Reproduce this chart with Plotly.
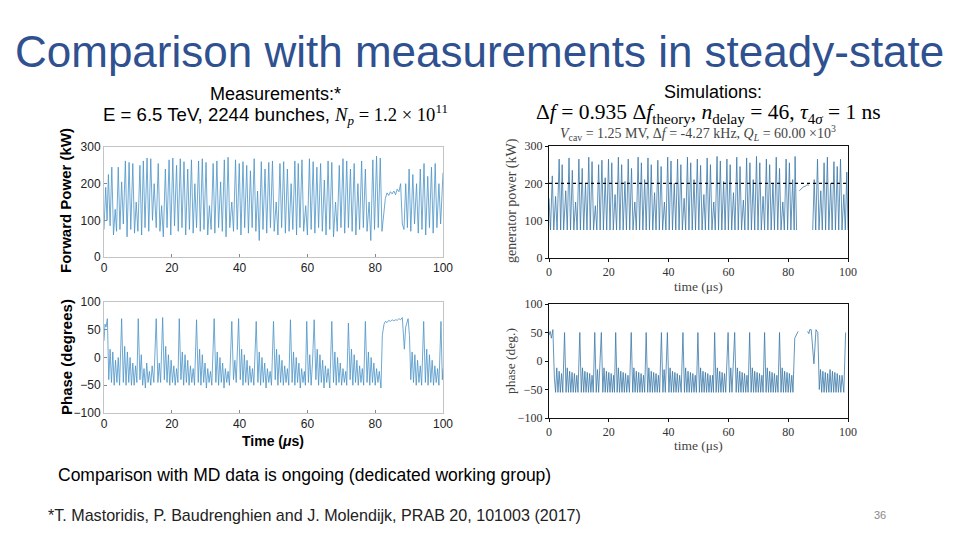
import plotly.graph_objects as go

# ---- data --------------------------------------------------------------------
TIME_TICKS = [0, 20, 40, 60, 80, 100]
POWER_TICKS = [0, 100, 200, 300]
PHASE_TICKS = [-100, -50, 0, 50, 100]
GEN_POWER_LIMIT = 200  # dotted reference line, kW

# measured forward power (us, kW)
MEAS_POWER = [
    (0.0, 75), (0.5, 190), (0.9, 100), (1.3, 225), (1.8, 85), (2.3, 245), (2.8, 60), (3.3, 130),
    (3.7, 70), (4.2, 245), (4.7, 75), (5.2, 205), (5.7, 90), (6.3, 262), (6.8, 55), (7.4, 258),
    (7.9, 75), (8.5, 255), (9.0, 65), (9.5, 150), (10.0, 70), (10.6, 250), (11.1, 60), (11.6, 262),
    (12.1, 80), (12.7, 270), (13.2, 70), (13.8, 268), (14.3, 100), (14.8, 200), (15.4, 80), (16.0, 255),
    (16.5, 70), (17.0, 140), (17.5, 55), (18.1, 240), (18.6, 80), (19.2, 265), (19.7, 60), (20.3, 270),
    (20.8, 85), (21.4, 250), (21.9, 70), (22.5, 268), (23.0, 80), (23.6, 260), (24.1, 60), (24.7, 240),
    (25.2, 75), (25.8, 265), (26.3, 65), (26.8, 200), (27.3, 80), (27.9, 262), (28.4, 70), (29.0, 268),
    (29.5, 75), (30.1, 258), (30.6, 60), (31.1, 140), (31.6, 75), (32.2, 255), (32.7, 65), (33.3, 262),
    (33.8, 80), (34.4, 205), (34.9, 70), (35.5, 265), (36.0, 55), (36.6, 272), (37.1, 80), (37.7, 150),
    (38.2, 70), (38.8, 265), (39.3, 75), (39.9, 255), (40.4, 60), (41.0, 260), (41.5, 80), (42.1, 250),
    (42.6, 65), (43.2, 235), (43.7, 80), (44.3, 268), (44.8, 70), (45.3, 180), (45.8, 45), (46.4, 260),
    (46.9, 75), (47.5, 240), (48.0, 65), (48.6, 258), (49.1, 80), (49.7, 262), (50.2, 70), (50.8, 150),
    (51.3, 60), (51.9, 255), (52.4, 80), (53.0, 260), (53.5, 65), (54.1, 240), (54.6, 70), (55.2, 200),
    (55.7, 75), (56.3, 262), (56.8, 60), (57.3, 255), (57.8, 80), (58.4, 265), (58.9, 70), (59.5, 140),
    (60.0, 60), (60.6, 268), (61.1, 75), (61.7, 260), (62.2, 65), (62.8, 245), (63.3, 80), (63.9, 255),
    (64.4, 70), (65.0, 210), (65.5, 60), (66.1, 262), (66.6, 75), (67.2, 258), (67.7, 55), (68.3, 150),
    (68.8, 70), (69.4, 250), (69.9, 80), (70.5, 268), (71.0, 65), (71.6, 262), (72.1, 80), (72.7, 240),
    (73.2, 70), (73.8, 255), (74.3, 60), (74.9, 200), (75.4, 75), (76.0, 262), (76.5, 80), (77.1, 240),
    (77.6, 70), (78.2, 150), (78.7, 45), (79.3, 265), (79.8, 75), (80.4, 275), (80.9, 80), (81.5, 270),
    (82.0, 70), (82.5, 120), (83.0, 160), (83.5, 175), (84.0, 168), (84.5, 178), (85.0, 172), (85.5, 180),
    (86.0, 170), (86.5, 185), (87.0, 178), (87.5, 200), (88.0, 90), (88.5, 75), (89.0, 200), (89.5, 80),
    (90.0, 240), (90.5, 70), (91.1, 225), (91.6, 90), (92.2, 200), (92.7, 65), (93.3, 240), (93.8, 75),
    (94.4, 255), (94.9, 60), (95.5, 220), (96.0, 80), (96.6, 245), (97.1, 65), (97.7, 255), (98.2, 80),
    (98.8, 200), (99.3, 90), (100.0, 230),
]

# measured phase (us, degrees)
MEAS_PHASE = [
    (0.0, 30), (0.3, 60), (0.6, 55), (1.0, 70), (1.4, -40), (1.8, 15), (2.2, -45), (2.6, 10),
    (3.0, -50), (3.4, -5), (3.8, -45), (4.2, 0), (4.6, -50), (5.2, 70), (5.7, -45), (6.1, 20),
    (6.5, -50), (6.9, 10), (7.3, -45), (7.7, 0), (8.1, -50), (8.5, -10), (8.9, -50), (9.3, -15),
    (9.7, -45), (10.1, 70), (10.6, -40), (11.0, 5), (11.4, -50), (11.8, -20), (12.2, -55), (12.6, -10),
    (13.0, -45), (13.4, -25), (13.8, -50), (14.2, -15), (14.7, -45), (15.4, 70), (15.9, -45), (16.3, -10),
    (16.7, -45), (17.3, 72), (17.8, -40), (18.2, 20), (18.6, -45), (19.0, 5), (19.4, -50), (19.8, -5),
    (20.2, -45), (20.6, -15), (21.0, -50), (21.4, -20), (21.8, -45), (22.2, 70), (22.7, -40), (23.1, 10),
    (23.5, -50), (23.9, 5), (24.3, -45), (24.7, -5), (25.1, -50), (25.5, -15), (25.9, -45), (26.3, -20),
    (26.7, -50), (27.3, 68), (27.8, -45), (28.2, 15), (28.6, -50), (29.0, 5), (29.4, -45), (29.8, -10),
    (30.2, -55), (30.6, -20), (31.0, -45), (31.4, -25), (31.8, -50), (32.5, 70), (33.0, -45), (33.4, 10),
    (33.8, -50), (34.2, 0), (34.6, -45), (35.0, -10), (35.4, -55), (35.8, -20), (36.2, -45), (36.6, -25),
    (37.0, -50), (37.7, 65), (38.2, -40), (38.6, -5), (39.0, -45), (39.7, 70), (40.2, -40), (40.6, 15),
    (41.0, -50), (41.4, 5), (41.8, -45), (42.2, -5), (42.6, -50), (43.0, -15), (43.4, -45), (43.8, -20),
    (44.2, -50), (44.9, 65), (45.4, -45), (45.8, 10), (46.2, -50), (46.6, 0), (47.0, -45), (47.4, -10),
    (47.8, -55), (48.2, -20), (48.6, -45), (49.0, -25), (49.4, -50), (50.0, 65), (50.5, -40), (50.9, 15),
    (51.3, -50), (51.7, 5), (52.1, -45), (52.5, -5), (52.9, -50), (53.3, -15), (53.7, -45), (54.1, -20),
    (54.5, -50), (55.0, 68), (55.5, -45), (55.9, 10), (56.3, -50), (56.7, 0), (57.1, -45), (57.5, -10),
    (57.9, -55), (58.3, -20), (58.7, -45), (59.1, -25), (59.4, -50), (59.8, 65), (60.3, -45), (60.7, 5),
    (61.1, -50), (61.5, -10), (62.0, 68), (62.5, -40), (62.9, 15), (63.3, -50), (63.7, 5), (64.1, -45),
    (64.5, -5), (64.9, -55), (65.3, -15), (65.7, -45), (66.1, -20), (66.6, -55), (67.2, 65), (67.7, -45),
    (68.1, 10), (68.5, -50), (68.9, 0), (69.3, -45), (69.7, -10), (70.1, -50), (70.5, -20), (70.9, -45),
    (71.3, -25), (71.6, -50), (72.1, 62), (72.6, -40), (73.0, 15), (73.4, -50), (73.8, 5), (74.2, -45),
    (74.6, -5), (75.0, -50), (75.4, -15), (75.8, -45), (76.2, -20), (76.6, -50), (77.1, 65), (77.6, -45),
    (78.0, 10), (78.4, -50), (78.8, 0), (79.2, -45), (79.6, -10), (80.0, -50), (80.4, -20), (80.8, -45),
    (81.2, -25), (81.7, -55), (82.1, 40), (82.6, 60), (83.0, 65), (83.5, 63), (84.0, 67), (84.5, 65),
    (85.0, 68), (85.5, 66), (86.0, 68), (86.5, 67), (87.0, 70), (87.5, 68), (88.0, 72), (88.6, 15),
    (89.0, 55), (89.7, 70), (90.1, 40), (90.5, -40), (90.9, 10), (91.3, -45), (91.7, 5), (92.1, -50),
    (92.5, -5), (92.9, -45), (93.3, -15), (93.7, -50), (94.3, 65), (94.8, -45), (95.2, 15), (95.6, -50),
    (96.0, 5), (96.4, -45), (96.8, -5), (97.2, -50), (97.6, -15), (98.0, -45), (98.4, -20), (98.8, -50),
    (99.4, 65), (99.8, -40), (100.0, -20),
]

# simulated generator power (us, kW); None = no sample drawn
SIM_POWER = [
    (0.0, 160), (0.5, 75), (1.1, 220), (1.6, 75), (2.2, 165), (2.7, 75), (3.4, 265), (3.9, 75),
    (4.4, 250), (4.9, 75), (5.6, 180), (6.1, 75), (6.7, 268), (7.2, 75), (7.8, 235), (8.3, 75),
    (8.9, 150), (9.4, 75), (10.0, 265), (10.5, 75), (11.1, 240), (11.6, 75), (12.2, 200), (12.7, 75),
    (13.3, 270), (13.8, 75), (14.4, 258), (14.9, 75), (15.5, 140), (16.0, 75), (16.6, 250), (17.1, 75),
    (17.7, 262), (18.2, 75), (18.8, 215), (19.3, 75), (19.9, 265), (20.4, 75), (21.0, 255), (21.5, 75),
    (22.1, 170), (22.6, 75), (23.2, 270), (23.7, 75), (24.3, 250), (24.8, 75), (25.4, 205), (25.9, 75),
    (26.5, 265), (27.0, 75), (27.6, 240), (28.1, 75), (28.7, 150), (29.2, 75), (29.8, 270), (30.3, 75),
    (30.9, 255), (31.4, 75), (32.0, 210), (32.5, 75), (33.1, 268), (33.6, 75), (34.2, 250), (34.7, 75),
    (35.3, 175), (35.8, 75), (36.4, 262), (36.9, 75), (37.5, 245), (38.0, 75), (38.6, 150), (39.1, 75),
    (39.7, 270), (40.2, 75), (40.8, 260), (41.3, 75), (41.9, 200), (42.4, 75), (43.0, 265), (43.5, 75),
    (44.1, 250), (44.6, 75), (45.2, 160), (45.7, 75), (46.3, 270), (46.8, 75), (47.4, 255), (47.9, 75),
    (48.5, 210), (49.0, 75), (49.6, 265), (50.1, 75), (50.7, 248), (51.2, 75), (51.8, 170), (52.3, 75),
    (52.9, 268), (53.4, 75), (54.0, 250), (54.5, 75), (55.1, 150), (55.6, 75), (56.2, 272), (56.7, 75),
    (57.3, 260), (57.8, 75), (58.4, 205), (58.9, 75), (59.5, 265), (60.0, 75), (60.6, 250), (61.1, 75),
    (61.7, 175), (62.2, 75), (62.8, 270), (63.3, 75), (63.9, 245), (64.4, 75), (65.0, 155), (65.5, 75),
    (66.1, 268), (66.6, 75), (67.2, 255), (67.7, 75), (68.3, 210), (68.8, 75), (69.4, 272), (69.9, 75),
    (70.5, 255), (71.0, 75), (71.6, 165), (72.1, 75), (72.7, 265), (73.2, 75), (73.8, 250), (74.3, 75),
    (74.9, 200), (75.4, 75), (76.0, 270), (76.5, 75), (77.1, 240), (77.6, 75), (78.2, 150), (78.7, 75),
    (79.3, 265), (79.8, 75), (80.4, 255), (80.9, 75), (81.5, 210), (82.0, 75), (82.3, 272), (82.8, 75),
    (83.0, None), (83.7, 180), (84.3, 186), (85.0, 190), (85.7, 192), (86.3, 196), (87.0, 195), (87.3, None),
    (88.2, 75), (88.7, 210), (89.2, 75), (89.8, 265), (90.3, 75), (90.9, 180), (91.4, 75), (92.0, 255),
    (92.5, 75), (93.1, 270), (93.6, 75), (94.2, 200), (94.7, 75), (95.3, 258), (95.8, 75), (96.4, 245),
    (96.9, 75), (97.5, 265), (98.0, 75), (98.6, 170), (99.1, 75), (99.6, 230), (100.0, 75),
]

# simulated phase (us, degrees)
SIM_PHASE = [
    (0.0, 45), (0.4, 52), (0.8, 40), (1.3, 55), (1.8, -30), (2.2, -55), (2.6, -12), (3.0, -55),
    (3.4, -18), (3.8, -55), (4.2, -22), (4.6, -55), (5.2, 50), (5.7, -55), (6.1, -12), (6.5, -55),
    (6.9, -18), (7.3, -55), (7.7, -20), (8.1, -55), (8.5, -22), (8.9, -55), (9.3, -25), (9.7, -55),
    (10.3, 50), (10.8, -55), (11.2, -12), (11.6, -55), (12.0, -18), (12.4, -55), (12.8, -20), (13.2, -55),
    (13.6, -22), (14.0, -55), (14.4, -25), (14.8, -55), (15.3, 50), (15.8, -55), (16.2, -15), (16.6, -55),
    (17.5, 50), (18.0, -55), (18.4, -12), (18.8, -55), (19.2, -18), (19.6, -55), (20.0, -20), (20.4, -55),
    (20.8, -22), (21.2, -55), (21.6, -25), (21.9, -55), (22.3, 50), (22.8, -55), (23.2, -12), (23.6, -55),
    (24.0, -18), (24.4, -55), (24.8, -20), (25.2, -55), (25.6, -22), (26.0, -55), (26.4, -25), (26.9, -55),
    (27.5, 50), (28.0, -55), (28.4, -12), (28.8, -55), (29.2, -18), (29.6, -55), (30.0, -20), (30.4, -55),
    (30.8, -22), (31.2, -55), (31.6, -25), (32.0, -55), (32.5, 50), (33.0, -55), (33.4, -12), (33.8, -55),
    (34.2, -18), (34.6, -55), (35.0, -20), (35.4, -55), (35.8, -22), (36.2, -55), (36.6, -25), (37.0, -55),
    (37.6, 50), (38.1, -55), (38.5, -15), (38.9, -55), (39.6, 50), (40.1, -55), (40.5, -12), (40.9, -55),
    (41.3, -18), (41.7, -55), (42.1, -20), (42.5, -55), (42.9, -22), (43.3, -55), (43.7, -25), (44.2, -55),
    (44.8, 50), (45.3, -55), (45.7, -12), (46.1, -55), (46.5, -18), (46.9, -55), (47.3, -20), (47.7, -55),
    (48.1, -22), (48.5, -55), (48.9, -25), (49.3, -55), (49.8, 50), (50.3, -55), (50.7, -12), (51.1, -55),
    (51.5, -18), (51.9, -55), (52.3, -20), (52.7, -55), (53.1, -22), (53.5, -55), (53.9, -25), (54.3, -55),
    (54.7, -25), (55.0, -55), (55.4, 50), (55.9, -55), (56.3, -12), (56.7, -55), (57.1, -18), (57.5, -55),
    (57.9, -20), (58.3, -55), (58.7, -22), (59.1, -55), (59.9, 50), (60.4, -55), (60.8, -12), (61.2, -55),
    (62.1, 50), (62.6, -55), (63.0, -12), (63.4, -55), (63.8, -18), (64.2, -55), (64.6, -20), (65.0, -55),
    (65.4, -22), (65.8, -55), (66.2, -25), (66.6, -55), (67.1, 50), (67.6, -55), (68.0, -12), (68.4, -55),
    (68.8, -18), (69.2, -55), (69.6, -20), (70.0, -55), (70.4, -22), (70.8, -55), (71.2, -25), (71.6, -55),
    (72.1, 50), (72.6, -55), (73.0, -12), (73.4, -55), (73.8, -18), (74.2, -55), (74.6, -20), (75.0, -55),
    (75.4, -22), (75.8, -55), (76.2, -25), (76.6, -55), (77.1, 50), (77.6, -55), (78.0, -12), (78.4, -55),
    (78.8, -18), (79.2, -55), (79.6, -20), (80.0, -55), (80.4, -22), (80.8, -55), (81.2, -25), (81.6, -55),
    (82.2, 40), (82.7, 45), (83.3, 52), (83.4, None), (86.5, 52), (86.9, 48), (87.2, 55), (87.7, 55),
    (88.6, -5), (89.3, 55), (89.9, 50), (90.4, -50), (90.8, -15), (91.2, -55), (91.6, -18), (92.0, -55),
    (92.4, -20), (92.8, -55), (93.2, -22), (93.6, -55), (94.0, -15), (94.4, -55), (94.8, -18), (95.2, -55),
    (95.6, -20), (96.0, -55), (96.4, -22), (96.8, -55), (97.2, -25), (97.6, -55), (98.0, -25), (98.6, -55),
    (99.2, 50),
]

# ---- styling ------------------------------------------------------------------
SANS = "Liberation Sans, Arial, sans-serif"
SERIF = "Liberation Serif, DejaVu Serif, serif"
MEAS_BLUE = "#4a93c6"
SIM_BLUE = "#3b78a8"
TITLE_BLUE = "#2f5190"

# the page body keeps an 8px margin, so the figure is drawn 8px in from the window edge
W, H, OFF = 952, 532, 8


def px(x):
    return (x - OFF) / W


def py(y):
    return 1 - (y - OFF) / H


def col(pts, i):
    return [p[i] for p in pts]


fig = go.Figure()
for pts, color, ax in [
    (MEAS_POWER, MEAS_BLUE, ("x", "y")),
    (MEAS_PHASE, MEAS_BLUE, ("x2", "y2")),
    (SIM_POWER, SIM_BLUE, ("x3", "y3")),
    (SIM_PHASE, SIM_BLUE, ("x4", "y4")),
]:
    fig.add_trace(go.Scatter(
        x=col(pts, 0), y=col(pts, 1), mode="lines",
        line=dict(color=color, width=0.8), connectgaps=False,
        xaxis=ax[0], yaxis=ax[1], hoverinfo="skip",
    ))

fig.add_trace(go.Scatter(
    x=[TIME_TICKS[0], TIME_TICKS[-1]], y=[GEN_POWER_LIMIT, GEN_POWER_LIMIT], mode="lines",
    line=dict(color="black", width=1.3, dash="dot"), xaxis="x3", yaxis="y3",
))

left_ax = dict(
    showgrid=False, zeroline=False, showline=True, mirror=True, linecolor="#c4c4c4", linewidth=1,
    ticks="inside", ticklen=3, tickcolor="#888", automargin=False,
    tickfont=dict(family=SANS, size=12, color="#222"),
)
right_ax = dict(
    showgrid=False, zeroline=False, showline=True, mirror=True, linecolor="#111", linewidth=1,
    ticks="outside", ticklen=3, tickcolor="#111", automargin=False,
    tickfont=dict(family=SERIF, size=12, color="#333"),
)

L_X = [px(104), px(443)]
R_X = [px(549), px(848)]

fig.update_layout(
    width=W, height=H, margin=dict(l=0, r=0, t=0, b=0, autoexpand=False),
    paper_bgcolor="white", plot_bgcolor="white", showlegend=False,
    xaxis=dict(left_ax, domain=L_X, range=[0, 100], tickvals=TIME_TICKS, anchor="y"),
    yaxis=dict(left_ax, domain=[py(257), py(147)], range=[0, 300], tickvals=POWER_TICKS, anchor="x"),
    xaxis2=dict(left_ax, domain=L_X, range=[0, 100], tickvals=TIME_TICKS, anchor="y2"),
    yaxis2=dict(left_ax, domain=[py(413), py(302)], range=[-100, 100], tickvals=PHASE_TICKS, anchor="x2"),
    xaxis3=dict(right_ax, domain=R_X, range=[0, 100], tickvals=TIME_TICKS, anchor="y3"),
    yaxis3=dict(right_ax, domain=[py(258), py(146)], range=[0, 300], tickvals=POWER_TICKS, anchor="x3"),
    xaxis4=dict(right_ax, domain=R_X, range=[0, 100], tickvals=TIME_TICKS, anchor="y4"),
    yaxis4=dict(right_ax, domain=[py(418), py(304)], range=[-100, 100], tickvals=PHASE_TICKS,
                ticktext=["\u2212100", "\u221250", "0", "50", "100"], anchor="x4"),
)


def note(text, x, y, size, family=SANS, color="black", angle=0, xanchor="center"):
    fig.add_annotation(
        text=text, x=px(x), y=py(y), xref="paper", yref="paper", showarrow=False,
        xanchor=xanchor, yanchor="middle", textangle=angle,
        font=dict(family=family, size=size, color=color),
    )


note("Comparison with measurements in steady-state", 479, 52, 44, color=TITLE_BLUE)

note("Measurements:*", 275, 94, 18)
note("E = 6.5 TeV, 2244 bunches, "
     f'<span style="font-family:{SERIF}"><i>N</i><sub><i>p</i></sub> = 1.2 × 10<sup>11</sup></span>',
     275, 114, 18.6)
note("Simulations:", 713, 92, 18)
note("Δ<i>f</i> = 0.935 Δ<i>f</i><sub>theory</sub>, <i>n</i><sub>delay</sub> = 46, "
     "<i>τ</i><sub>4<i>σ</i></sub> = 1 ns", 708, 113, 21.5, family=SERIF)
note("<i>V</i><sub>cav</sub> = 1.25 MV, Δ<i>f</i> = -4.27 kHz, <i>Q</i><sub><i>L</i></sub> = 60.00 ×10<sup>3</sup>",
     698, 133, 14, family=SERIF, color="#444")

note("<b>Forward Power (kW)</b>", 66, 201, 15, angle=-90)
note("<b>Phase (degrees)</b>", 66, 357, 15, angle=-90)
note("<b>Time (<i>μ</i>s)</b>", 273, 441, 14)

note("generator power (kW)", 512, 201, 14, family=SERIF, color="#444", angle=-90)
note("time (μs)", 698, 286, 13.5, family=SERIF, color="#444")
note("phase (deg.)", 510, 361, 13.5, family=SERIF, color="#444", angle=-90)
note("time (μs)", 698, 445, 13.5, family=SERIF, color="#444")

note("Comparison with MD data is ongoing (dedicated working group)", 56, 475, 17.5, xanchor="left")
note("*T. Mastoridis, P. Baudrenghien and J. Molendijk, PRAB 20, 101003 (2017)", 46, 515, 16.1,
     xanchor="left", color="#222")
note("36", 880, 515, 11, color="#888")

fig.write_html("out.html")
